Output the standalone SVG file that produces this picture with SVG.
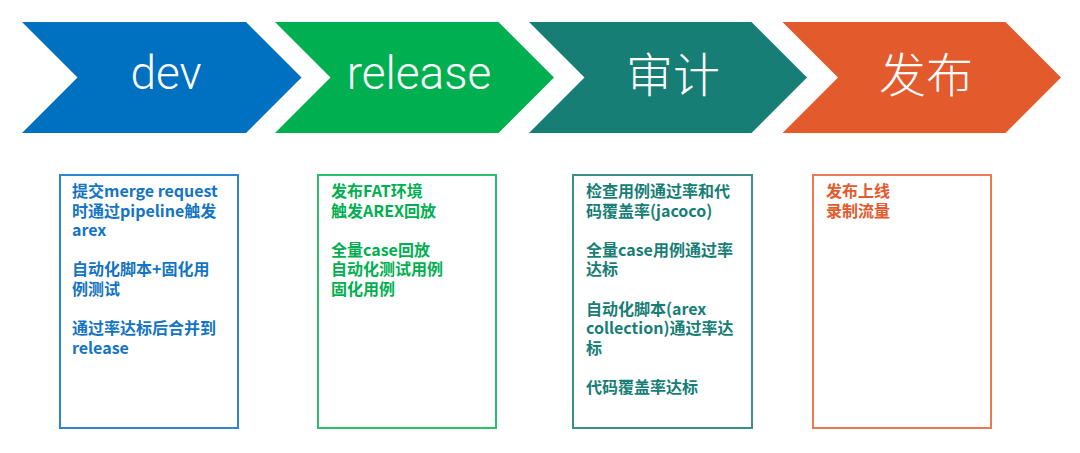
<svg xmlns="http://www.w3.org/2000/svg" width="1080" height="453" viewBox="0 0 1080 453">
<style>
.title{fill:#ffffff;font-family:"Roboto","Noto Sans CJK SC",sans-serif;font-weight:300;font-size:46px;text-anchor:middle}
.cjk{font-family:"Noto Sans CJK SC",sans-serif;font-size:47px;font-weight:300}
.box{fill:#ffffff;stroke-width:2}
.txt{font-family:"Noto Sans CJK SC","Noto Sans",sans-serif;font-weight:700;font-size:16px}
.blue{fill:#1474C4}.green{fill:#00B050}.teal{fill:#177E76}.orange{fill:#E35A2D}
</style>
<rect width="1080" height="453" fill="#ffffff"/>
<g id="stage-dev">
<polygon points="22,22 246,22 301.5,77.5 246,133 22,133 77.5,77.5" fill="#0070C0"/>
<text class="title" x="166" y="89">dev</text>
</g>
<g id="stage-release">
<polygon points="275,22 498.5,22 554,77.5 498.5,133 275,133 330.5,77.5" fill="#00B050"/>
<text class="title" x="419" y="89">release</text>
</g>
<g id="stage-audit">
<polygon points="529,22 751.5,22 807,77.5 751.5,133 529,133 584.5,77.5" fill="#177E76"/>
<text class="title cjk" x="673" y="92">审计</text>
</g>
<g id="stage-publish">
<polygon points="782.5,22 1005.5,22 1061,77.5 1005.5,133 782.5,133 838,77.5" fill="#E35A2D"/>
<text class="title cjk" x="926" y="92">发布</text>
</g>
<g id="connectors"></g>
<g id="box-dev">
<rect class="box" x="60" y="175" width="178" height="253" stroke="#2E86CF"/>
<text class="txt blue" x="72">
<tspan x="72" y="197">提交merge request</tspan>
<tspan x="72" y="216.6">时通过pipeline触发</tspan>
<tspan x="72" y="236.2">arex</tspan>
<tspan x="72" y="275.4">自动化脚本+固化用</tspan>
<tspan x="72" y="295">例测试</tspan>
<tspan x="72" y="334.2">通过率达标后合并到</tspan>
<tspan x="72" y="353.8">release</tspan>
</text>
</g>
<g id="box-release">
<rect class="box" x="318" y="175" width="178" height="253" stroke="#2DBE6C"/>
<text class="txt green">
<tspan x="331" y="197">发布FAT环境</tspan>
<tspan x="331" y="216.6">触发AREX回放</tspan>
<tspan x="331" y="255.8">全量case回放</tspan>
<tspan x="331" y="275.4">自动化测试用例</tspan>
<tspan x="331" y="295">固化用例</tspan>
</text>
</g>
<g id="box-audit">
<rect class="box" x="573" y="175" width="179" height="253" stroke="#3A9088"/>
<text class="txt teal">
<tspan x="586" y="197">检查用例通过率和代</tspan>
<tspan x="586" y="216.6">码覆盖率(jacoco)</tspan>
<tspan x="586" y="255.8">全量case用例通过率</tspan>
<tspan x="586" y="275.4">达标</tspan>
<tspan x="586" y="314.6">自动化脚本(arex</tspan>
<tspan x="586" y="334.2">collection)通过率达</tspan>
<tspan x="586" y="353.8">标</tspan>
<tspan x="586" y="393">代码覆盖率达标</tspan>
</text>
</g>
<g id="box-publish">
<rect class="box" x="813" y="175" width="178" height="253" stroke="#EA7A55"/>
<text class="txt orange">
<tspan x="826" y="197">发布上线</tspan>
<tspan x="826" y="216.6">录制流量</tspan>
</text>
</g>
</svg>
